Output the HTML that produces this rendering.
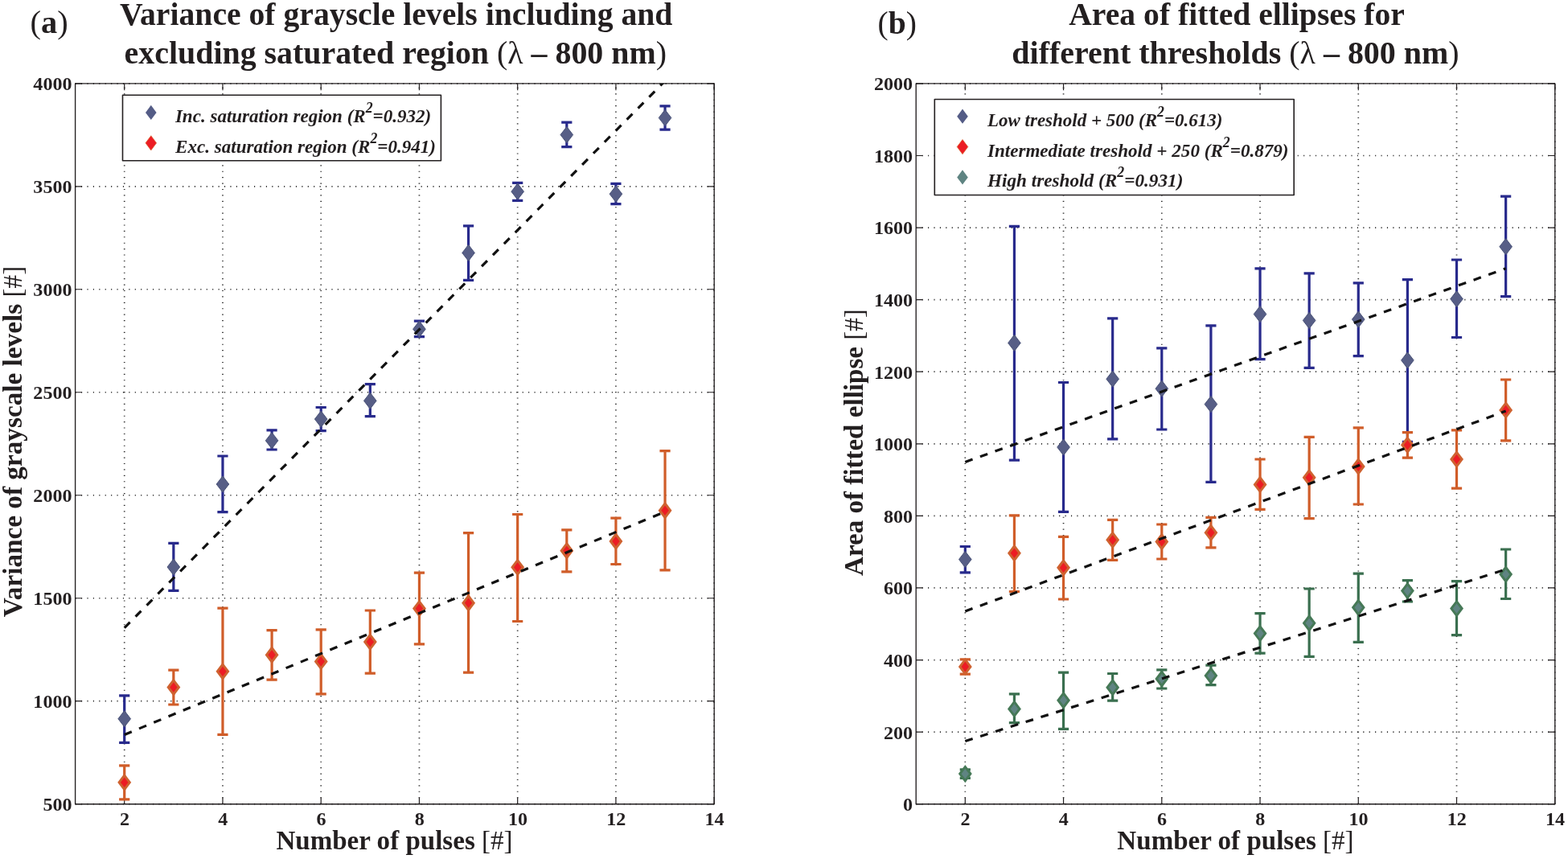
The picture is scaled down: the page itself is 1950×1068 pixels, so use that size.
<!DOCTYPE html>
<html><head><meta charset="utf-8"><title>Figure</title>
<style>
html,body{margin:0;padding:0;background:#fff;}
body{width:1950px;height:1068px;overflow:hidden;}
svg{display:block;}
text{font-family:"Liberation Serif", "Times New Roman", serif;fill:#231F20;}
.tk text{font-weight:bold;}
.tt{font-weight:bold;}
.lg{font-weight:bold;font-style:italic;}
</style></head>
<body>
<svg width="1950" height="1068" viewBox="0 0 1950 1068">
<rect width="1950" height="1068" fill="#fff"/>
<defs><clipPath id="cl"><rect x="93.6" y="103.8" width="794.6" height="895.9"/></clipPath><clipPath id="cr"><rect x="1139.2" y="103.9" width="794.6" height="895.8"/></clipPath></defs>
<path d="M154.72 999.7V103.8M276.96 999.7V103.8M399.2 999.7V103.8M521.44 999.7V103.8M643.68 999.7V103.8M765.92 999.7V103.8M888.16 999.7V103.8M93.6 999.7H888.2M93.6 871.71H888.2M93.6 743.73H888.2M93.6 615.74H888.2M93.6 487.76H888.2M93.6 359.77H888.2M93.6 231.79H888.2M93.6 103.8H888.2" stroke="#2a2a2a" stroke-width="1.7" stroke-dasharray="1.15 6.264" fill="none"/>
<path d="M154.72 999.7V991.3M154.72 103.8V112.2M276.96 999.7V991.3M276.96 103.8V112.2M399.2 999.7V991.3M399.2 103.8V112.2M521.44 999.7V991.3M521.44 103.8V112.2M643.68 999.7V991.3M643.68 103.8V112.2M765.92 999.7V991.3M765.92 103.8V112.2M888.16 999.7V991.3M888.16 103.8V112.2M93.6 999.7H102M888.2 999.7H879.8M93.6 871.71H102M888.2 871.71H879.8M93.6 743.73H102M888.2 743.73H879.8M93.6 615.74H102M888.2 615.74H879.8M93.6 487.76H102M888.2 487.76H879.8M93.6 359.77H102M888.2 359.77H879.8M93.6 231.79H102M888.2 231.79H879.8M93.6 103.8H102M888.2 103.8H879.8" stroke="#231F20" stroke-width="1.2" fill="none"/>
<rect x="93.6" y="103.8" width="794.6" height="895.9" fill="none" stroke="#231F20" stroke-width="1.35" stroke-linejoin="round"/>
<path d="M1200.32 999.7V103.9M1322.56 999.7V103.9M1444.8 999.7V103.9M1567.04 999.7V103.9M1689.28 999.7V103.9M1811.52 999.7V103.9M1933.76 999.7V103.9M1139.2 999.7H1933.8M1139.2 910.12H1933.8M1139.2 820.54H1933.8M1139.2 730.96H1933.8M1139.2 641.38H1933.8M1139.2 551.8H1933.8M1139.2 462.22H1933.8M1139.2 372.64H1933.8M1139.2 283.06H1933.8M1139.2 193.48H1933.8M1139.2 103.9H1933.8" stroke="#2a2a2a" stroke-width="1.7" stroke-dasharray="1.15 6.264" fill="none"/>
<path d="M1200.32 999.7V991.3M1200.32 103.9V112.3M1322.56 999.7V991.3M1322.56 103.9V112.3M1444.8 999.7V991.3M1444.8 103.9V112.3M1567.04 999.7V991.3M1567.04 103.9V112.3M1689.28 999.7V991.3M1689.28 103.9V112.3M1811.52 999.7V991.3M1811.52 103.9V112.3M1933.76 999.7V991.3M1933.76 103.9V112.3M1139.2 999.7H1147.6M1933.8 999.7H1925.4M1139.2 910.12H1147.6M1933.8 910.12H1925.4M1139.2 820.54H1147.6M1933.8 820.54H1925.4M1139.2 730.96H1147.6M1933.8 730.96H1925.4M1139.2 641.38H1147.6M1933.8 641.38H1925.4M1139.2 551.8H1147.6M1933.8 551.8H1925.4M1139.2 462.22H1147.6M1933.8 462.22H1925.4M1139.2 372.64H1147.6M1933.8 372.64H1925.4M1139.2 283.06H1147.6M1933.8 283.06H1925.4M1139.2 193.48H1147.6M1933.8 193.48H1925.4M1139.2 103.9H1147.6M1933.8 103.9H1925.4" stroke="#231F20" stroke-width="1.2" fill="none"/>
<rect x="1139.2" y="103.9" width="794.6" height="895.8" fill="none" stroke="#231F20" stroke-width="1.35" stroke-linejoin="round"/>
<path d="M154.72 864.8V923.3M148.12 864.8H161.32M148.12 923.3H161.32M215.84 675.3V734.3M209.24 675.3H222.44M209.24 734.3H222.44M276.96 567V636.6M270.36 567H283.56M270.36 636.6H283.56M338.08 534.9V559M331.48 534.9H344.68M331.48 559H344.68M399.2 506.5V535.7M392.6 506.5H405.8M392.6 535.7H405.8M460.32 477.6V517.6M453.72 477.6H466.92M453.72 517.6H466.92M521.44 399.2V418.6M514.84 399.2H528.04M514.84 418.6H528.04M582.56 280.8V348.4M575.96 280.8H589.16M575.96 348.4H589.16M643.68 227.4V249.4M637.08 227.4H650.28M637.08 249.4H650.28M704.8 152.1V182.7M698.2 152.1H711.4M698.2 182.7H711.4M765.92 228.3V253.7M759.32 228.3H772.52M759.32 253.7H772.52M827.04 131.9V161.1M820.44 131.9H833.64M820.44 161.1H833.64" stroke="#282A8C" stroke-width="3.2" fill="none"/>
<path d="M154.72 883.6L162.52 893.7L154.72 903.8L146.92 893.7Z" fill="#575E86" stroke="#4A5378" stroke-width="1.0"/>
<path d="M215.84 694.9L223.64 705L215.84 715.1L208.04 705Z" fill="#575E86" stroke="#4A5378" stroke-width="1.0"/>
<path d="M276.96 591.9L284.76 602L276.96 612.1L269.16 602Z" fill="#575E86" stroke="#4A5378" stroke-width="1.0"/>
<path d="M338.08 537.7L345.88 547.8L338.08 557.9L330.28 547.8Z" fill="#575E86" stroke="#4A5378" stroke-width="1.0"/>
<path d="M399.2 511L407 521.1L399.2 531.2L391.4 521.1Z" fill="#575E86" stroke="#4A5378" stroke-width="1.0"/>
<path d="M460.32 488.2L468.12 498.3L460.32 508.4L452.52 498.3Z" fill="#575E86" stroke="#4A5378" stroke-width="1.0"/>
<path d="M521.44 399.1L529.24 409.2L521.44 419.3L513.64 409.2Z" fill="#575E86" stroke="#4A5378" stroke-width="1.0"/>
<path d="M582.56 304.3L590.36 314.4L582.56 324.5L574.76 314.4Z" fill="#575E86" stroke="#4A5378" stroke-width="1.0"/>
<path d="M643.68 228.1L651.48 238.2L643.68 248.3L635.88 238.2Z" fill="#575E86" stroke="#4A5378" stroke-width="1.0"/>
<path d="M704.8 157.5L712.6 167.6L704.8 177.7L697 167.6Z" fill="#575E86" stroke="#4A5378" stroke-width="1.0"/>
<path d="M765.92 231.1L773.72 241.2L765.92 251.3L758.12 241.2Z" fill="#575E86" stroke="#4A5378" stroke-width="1.0"/>
<path d="M827.04 136.4L834.84 146.5L827.04 156.6L819.24 146.5Z" fill="#575E86" stroke="#4A5378" stroke-width="1.0"/>
<path d="M154.72 951.8V993.8M148.12 951.8H161.32M148.12 993.8H161.32M215.84 833.1V876M209.24 833.1H222.44M209.24 876H222.44M276.96 756.1V913.4M270.36 756.1H283.56M270.36 913.4H283.56M338.08 783.7V845.1M331.48 783.7H344.68M331.48 845.1H344.68M399.2 782.9V862.8M392.6 782.9H405.8M392.6 862.8H405.8M460.32 759V837.2M453.72 759H466.92M453.72 837.2H466.92M521.44 712.2V800.9M514.84 712.2H528.04M514.84 800.9H528.04M582.56 662.7V836.2M575.96 662.7H589.16M575.96 836.2H589.16M643.68 639.5V772.5M637.08 639.5H650.28M637.08 772.5H650.28M704.8 658.8V710.9M698.2 658.8H711.4M698.2 710.9H711.4M765.92 644.2V701.5M759.32 644.2H772.52M759.32 701.5H772.52M827.04 560.7V708.8M820.44 560.7H833.64M820.44 708.8H833.64" stroke="#D05D29" stroke-width="3.2" fill="none"/>
<path d="M154.72 964.1L161.32 972.8L154.72 981.5L148.12 972.8Z" fill="#EC1C24" stroke="#CF6230" stroke-width="3.0"/>
<path d="M215.84 845.8L222.44 854.5L215.84 863.2L209.24 854.5Z" fill="#EC1C24" stroke="#CF6230" stroke-width="3.0"/>
<path d="M276.96 826.1L283.56 834.8L276.96 843.5L270.36 834.8Z" fill="#EC1C24" stroke="#CF6230" stroke-width="3.0"/>
<path d="M338.08 805.5L344.68 814.2L338.08 822.9L331.48 814.2Z" fill="#EC1C24" stroke="#CF6230" stroke-width="3.0"/>
<path d="M399.2 813.7L405.8 822.4L399.2 831.1L392.6 822.4Z" fill="#EC1C24" stroke="#CF6230" stroke-width="3.0"/>
<path d="M460.32 789.4L466.92 798.1L460.32 806.8L453.72 798.1Z" fill="#EC1C24" stroke="#CF6230" stroke-width="3.0"/>
<path d="M521.44 747.9L528.04 756.6L521.44 765.3L514.84 756.6Z" fill="#EC1C24" stroke="#CF6230" stroke-width="3.0"/>
<path d="M582.56 741L589.16 749.7L582.56 758.4L575.96 749.7Z" fill="#EC1C24" stroke="#CF6230" stroke-width="3.0"/>
<path d="M643.68 696.6L650.28 705.3L643.68 714L637.08 705.3Z" fill="#EC1C24" stroke="#CF6230" stroke-width="3.0"/>
<path d="M704.8 676L711.4 684.7L704.8 693.4L698.2 684.7Z" fill="#EC1C24" stroke="#CF6230" stroke-width="3.0"/>
<path d="M765.92 664.3L772.52 673L765.92 681.7L759.32 673Z" fill="#EC1C24" stroke="#CF6230" stroke-width="3.0"/>
<path d="M827.04 626L833.64 634.7L827.04 643.4L820.44 634.7Z" fill="#EC1C24" stroke="#CF6230" stroke-width="3.0"/>
<path d="M1200.32 679.5V711.8M1193.72 679.5H1206.92M1193.72 711.8H1206.92M1261.44 281.3V572.2M1254.84 281.3H1268.04M1254.84 572.2H1268.04M1322.56 475.5V636.4M1315.96 475.5H1329.16M1315.96 636.4H1329.16M1383.68 395.8V545.8M1377.08 395.8H1390.28M1377.08 545.8H1390.28M1444.8 432.8V534M1438.2 432.8H1451.4M1438.2 534H1451.4M1505.92 404.8V599.4M1499.32 404.8H1512.52M1499.32 599.4H1512.52M1567.04 333.8V446.6M1560.44 333.8H1573.64M1560.44 446.6H1573.64M1628.16 339.8V457.4M1621.56 339.8H1634.76M1621.56 457.4H1634.76M1689.28 351.9V442.7M1682.68 351.9H1695.88M1682.68 442.7H1695.88M1750.4 347.6V549.3M1743.8 347.6H1757M1743.8 549.3H1757M1811.52 323V419.5M1804.92 323H1818.12M1804.92 419.5H1818.12M1872.64 244.2V368.7M1866.04 244.2H1879.24M1866.04 368.7H1879.24" stroke="#282A8C" stroke-width="3.2" fill="none"/>
<path d="M1200.32 685.4L1208.12 695.5L1200.32 705.6L1192.52 695.5Z" fill="#575E86" stroke="#4A5378" stroke-width="1.0"/>
<path d="M1261.44 416.3L1269.24 426.4L1261.44 436.5L1253.64 426.4Z" fill="#575E86" stroke="#4A5378" stroke-width="1.0"/>
<path d="M1322.56 545.9L1330.36 556L1322.56 566.1L1314.76 556Z" fill="#575E86" stroke="#4A5378" stroke-width="1.0"/>
<path d="M1383.68 461.1L1391.48 471.2L1383.68 481.3L1375.88 471.2Z" fill="#575E86" stroke="#4A5378" stroke-width="1.0"/>
<path d="M1444.8 473.1L1452.6 483.2L1444.8 493.3L1437 483.2Z" fill="#575E86" stroke="#4A5378" stroke-width="1.0"/>
<path d="M1505.92 492.5L1513.72 502.6L1505.92 512.7L1498.12 502.6Z" fill="#575E86" stroke="#4A5378" stroke-width="1.0"/>
<path d="M1567.04 380.5L1574.84 390.6L1567.04 400.7L1559.24 390.6Z" fill="#575E86" stroke="#4A5378" stroke-width="1.0"/>
<path d="M1628.16 388.3L1635.96 398.4L1628.16 408.5L1620.36 398.4Z" fill="#575E86" stroke="#4A5378" stroke-width="1.0"/>
<path d="M1689.28 387L1697.08 397.1L1689.28 407.2L1681.48 397.1Z" fill="#575E86" stroke="#4A5378" stroke-width="1.0"/>
<path d="M1750.4 437.8L1758.2 447.9L1750.4 458L1742.6 447.9Z" fill="#575E86" stroke="#4A5378" stroke-width="1.0"/>
<path d="M1811.52 361.6L1819.32 371.7L1811.52 381.8L1803.72 371.7Z" fill="#575E86" stroke="#4A5378" stroke-width="1.0"/>
<path d="M1872.64 296.6L1880.44 306.7L1872.64 316.8L1864.84 306.7Z" fill="#575E86" stroke="#4A5378" stroke-width="1.0"/>
<path d="M1200.32 819.8V838.2M1193.72 819.8H1206.92M1193.72 838.2H1206.92M1261.44 640.8V735.5M1254.84 640.8H1268.04M1254.84 735.5H1268.04M1322.56 667.4V745M1315.96 667.4H1329.16M1315.96 745H1329.16M1383.68 646.3V696.3M1377.08 646.3H1390.28M1377.08 696.3H1390.28M1444.8 652V695M1438.2 652H1451.4M1438.2 695H1451.4M1505.92 643.3V680.8M1499.32 643.3H1512.52M1499.32 680.8H1512.52M1567.04 571V633.4M1560.44 571H1573.64M1560.44 633.4H1573.64M1628.16 543.4V644.6M1621.56 543.4H1634.76M1621.56 644.6H1634.76M1689.28 531.9V627M1682.68 531.9H1695.88M1682.68 627H1695.88M1750.4 537.6V569.2M1743.8 537.6H1757M1743.8 569.2H1757M1811.52 534.9V607.2M1804.92 534.9H1818.12M1804.92 607.2H1818.12M1872.64 472V547.8M1866.04 472H1879.24M1866.04 547.8H1879.24" stroke="#D05D29" stroke-width="3.2" fill="none"/>
<path d="M1200.32 820.2L1206.92 828.9L1200.32 837.6L1193.72 828.9Z" fill="#EC1C24" stroke="#CF6230" stroke-width="3.0"/>
<path d="M1261.44 679L1268.04 687.7L1261.44 696.4L1254.84 687.7Z" fill="#EC1C24" stroke="#CF6230" stroke-width="3.0"/>
<path d="M1322.56 697.1L1329.16 705.8L1322.56 714.5L1315.96 705.8Z" fill="#EC1C24" stroke="#CF6230" stroke-width="3.0"/>
<path d="M1383.68 662.6L1390.28 671.3L1383.68 680L1377.08 671.3Z" fill="#EC1C24" stroke="#CF6230" stroke-width="3.0"/>
<path d="M1444.8 664.8L1451.4 673.5L1444.8 682.2L1438.2 673.5Z" fill="#EC1C24" stroke="#CF6230" stroke-width="3.0"/>
<path d="M1505.92 653.6L1512.52 662.3L1505.92 671L1499.32 662.3Z" fill="#EC1C24" stroke="#CF6230" stroke-width="3.0"/>
<path d="M1567.04 593.7L1573.64 602.4L1567.04 611.1L1560.44 602.4Z" fill="#EC1C24" stroke="#CF6230" stroke-width="3.0"/>
<path d="M1628.16 585.1L1634.76 593.8L1628.16 602.5L1621.56 593.8Z" fill="#EC1C24" stroke="#CF6230" stroke-width="3.0"/>
<path d="M1689.28 571.3L1695.88 580L1689.28 588.7L1682.68 580Z" fill="#EC1C24" stroke="#CF6230" stroke-width="3.0"/>
<path d="M1750.4 544.6L1757 553.3L1750.4 562L1743.8 553.3Z" fill="#EC1C24" stroke="#CF6230" stroke-width="3.0"/>
<path d="M1811.52 562.3L1818.12 571L1811.52 579.7L1804.92 571Z" fill="#EC1C24" stroke="#CF6230" stroke-width="3.0"/>
<path d="M1872.64 501.2L1879.24 509.9L1872.64 518.6L1866.04 509.9Z" fill="#EC1C24" stroke="#CF6230" stroke-width="3.0"/>
<path d="M1200.32 956.9V967.4M1193.72 956.9H1206.92M1193.72 967.4H1206.92M1261.44 862.9V898.7M1254.84 862.9H1268.04M1254.84 898.7H1268.04M1322.56 836.2V906.4M1315.96 836.2H1329.16M1315.96 906.4H1329.16M1383.68 837.5V871.1M1377.08 837.5H1390.28M1377.08 871.1H1390.28M1444.8 832.8V856M1438.2 832.8H1451.4M1438.2 856H1451.4M1505.92 827.2V851.7M1499.32 827.2H1512.52M1499.32 851.7H1512.52M1567.04 762.6V812.1M1560.44 762.6H1573.64M1560.44 812.1H1573.64M1628.16 732V816.4M1621.56 732H1634.76M1621.56 816.4H1634.76M1689.28 713.1V798.3M1682.68 713.1H1695.88M1682.68 798.3H1695.88M1750.4 721.7V748M1743.8 721.7H1757M1743.8 748H1757M1811.52 722.6V789.7M1804.92 722.6H1818.12M1804.92 789.7H1818.12M1872.64 683V744.5M1866.04 683H1879.24M1866.04 744.5H1879.24" stroke="#3A6F4F" stroke-width="3.2" fill="none"/>
<path d="M1200.32 953.4L1206.92 962.1L1200.32 970.8L1193.72 962.1Z" fill="#5F8482" stroke="#467957" stroke-width="3.0"/>
<path d="M1261.44 872.7L1268.04 881.4L1261.44 890.1L1254.84 881.4Z" fill="#5F8482" stroke="#467957" stroke-width="3.0"/>
<path d="M1322.56 862L1329.16 870.7L1322.56 879.4L1315.96 870.7Z" fill="#5F8482" stroke="#467957" stroke-width="3.0"/>
<path d="M1383.68 846L1390.28 854.7L1383.68 863.4L1377.08 854.7Z" fill="#5F8482" stroke="#467957" stroke-width="3.0"/>
<path d="M1444.8 835.3L1451.4 844L1444.8 852.7L1438.2 844Z" fill="#5F8482" stroke="#467957" stroke-width="3.0"/>
<path d="M1505.92 831.4L1512.52 840.1L1505.92 848.8L1499.32 840.1Z" fill="#5F8482" stroke="#467957" stroke-width="3.0"/>
<path d="M1567.04 778.9L1573.64 787.6L1567.04 796.3L1560.44 787.6Z" fill="#5F8482" stroke="#467957" stroke-width="3.0"/>
<path d="M1628.16 766L1634.76 774.7L1628.16 783.4L1621.56 774.7Z" fill="#5F8482" stroke="#467957" stroke-width="3.0"/>
<path d="M1689.28 746.6L1695.88 755.3L1689.28 764L1682.68 755.3Z" fill="#5F8482" stroke="#467957" stroke-width="3.0"/>
<path d="M1750.4 725.9L1757 734.6L1750.4 743.3L1743.8 734.6Z" fill="#5F8482" stroke="#467957" stroke-width="3.0"/>
<path d="M1811.52 747.9L1818.12 756.6L1811.52 765.3L1804.92 756.6Z" fill="#5F8482" stroke="#467957" stroke-width="3.0"/>
<path d="M1872.64 705.3L1879.24 714L1872.64 722.7L1866.04 714Z" fill="#5F8482" stroke="#467957" stroke-width="3.0"/>
<line x1="154.72" y1="780.6" x2="827.04" y2="100.62" stroke="#111" stroke-width="3.2" stroke-dasharray="9.8 9.95" clip-path="url(#cl)"/>
<line x1="154.72" y1="913.4" x2="827.04" y2="636.4" stroke="#111" stroke-width="3.2" stroke-dasharray="9.8 9.95" clip-path="url(#cl)"/>
<line x1="1200.32" y1="574.4" x2="1872.64" y2="333.8" stroke="#111" stroke-width="3.2" stroke-dasharray="9.8 9.95" clip-path="url(#cr)"/>
<line x1="1200.32" y1="760" x2="1872.64" y2="511" stroke="#111" stroke-width="3.2" stroke-dasharray="9.8 9.95" clip-path="url(#cr)"/>
<line x1="1200.32" y1="921.5" x2="1872.64" y2="707.9" stroke="#111" stroke-width="3.2" stroke-dasharray="9.8 9.95" clip-path="url(#cr)"/>
<rect x="152.5" y="118.2" width="395.9" height="81.5" fill="#fff" stroke="#231F20" stroke-width="1.6" stroke-linejoin="round"/>
<path d="M187.8 130.8L194.6 139.9L187.8 149L181 139.9Z" fill="#545C86"/>
<path d="M187.8 168.7L194.6 177.8L187.8 186.9L181 177.8Z" fill="#EC1C24" stroke="#D8652E" stroke-width="0.7"/>
<rect x="1162.3" y="123.5" width="446.9" height="119" fill="#fff" stroke="#231F20" stroke-width="1.6" stroke-linejoin="round"/>
<path d="M1197 135.6L1203.8 144.7L1197 153.8L1190.2 144.7Z" fill="#545C86"/>
<path d="M1197 173.5L1203.8 182.6L1197 191.7L1190.2 182.6Z" fill="#EC1C24" stroke="#D8652E" stroke-width="0.7"/>
<path d="M1197 211.3L1203.8 220.4L1197 229.5L1190.2 220.4Z" fill="#5F8482"/>
<g class="tk" style="font-size:24.1px"><text transform="translate(155.02 1026.2) scale(1.0 1)" text-anchor="middle">2</text>
<text transform="translate(277.26 1026.2) scale(1.0 1)" text-anchor="middle">4</text>
<text transform="translate(399.5 1026.2) scale(1.0 1)" text-anchor="middle">6</text>
<text transform="translate(521.74 1026.2) scale(1.0 1)" text-anchor="middle">8</text>
<text transform="translate(643.98 1026.2) scale(1.0 1)" text-anchor="middle">10</text>
<text transform="translate(766.22 1026.2) scale(1.0 1)" text-anchor="middle">12</text>
<text transform="translate(888.46 1026.2) scale(1.0 1)" text-anchor="middle">14</text>
<text transform="translate(89.55 1008.1) scale(1.0 1)" text-anchor="end">500</text>
<text transform="translate(89.55 880.11) scale(1.0 1)" text-anchor="end">1000</text>
<text transform="translate(89.55 752.13) scale(1.0 1)" text-anchor="end">1500</text>
<text transform="translate(89.55 624.14) scale(1.0 1)" text-anchor="end">2000</text>
<text transform="translate(89.55 496.16) scale(1.0 1)" text-anchor="end">2500</text>
<text transform="translate(89.55 368.17) scale(1.0 1)" text-anchor="end">3000</text>
<text transform="translate(89.55 240.19) scale(1.0 1)" text-anchor="end">3500</text>
<text transform="translate(89.55 112.2) scale(1.0 1)" text-anchor="end">4000</text>
<text transform="translate(1200.62 1026.2) scale(1.0 1)" text-anchor="middle">2</text>
<text transform="translate(1322.86 1026.2) scale(1.0 1)" text-anchor="middle">4</text>
<text transform="translate(1445.1 1026.2) scale(1.0 1)" text-anchor="middle">6</text>
<text transform="translate(1567.34 1026.2) scale(1.0 1)" text-anchor="middle">8</text>
<text transform="translate(1689.58 1026.2) scale(1.0 1)" text-anchor="middle">10</text>
<text transform="translate(1811.82 1026.2) scale(1.0 1)" text-anchor="middle">12</text>
<text transform="translate(1934.06 1026.2) scale(1.0 1)" text-anchor="middle">14</text>
<text transform="translate(1135.15 1008.1) scale(1.0 1)" text-anchor="end">0</text>
<text transform="translate(1135.15 918.52) scale(1.0 1)" text-anchor="end">200</text>
<text transform="translate(1135.15 828.94) scale(1.0 1)" text-anchor="end">400</text>
<text transform="translate(1135.15 739.36) scale(1.0 1)" text-anchor="end">600</text>
<text transform="translate(1135.15 649.78) scale(1.0 1)" text-anchor="end">800</text>
<text transform="translate(1135.15 560.2) scale(1.0 1)" text-anchor="end">1000</text>
<text transform="translate(1135.15 470.62) scale(1.0 1)" text-anchor="end">1200</text>
<text transform="translate(1135.15 381.04) scale(1.0 1)" text-anchor="end">1400</text>
<text transform="translate(1135.15 291.46) scale(1.0 1)" text-anchor="end">1600</text>
<text transform="translate(1135.15 201.88) scale(1.0 1)" text-anchor="end">1800</text>
<text transform="translate(1135.15 112.3) scale(1.0 1)" text-anchor="end">2000</text></g>
<text class="tt" style="font-size:40.3px" transform="translate(149 30.75) scale(0.9848 1)">Variance of grayscle levels including and</text>
<text class="tt" style="font-size:40.3px" transform="translate(154.61 78.6) scale(0.9900 1)">excluding saturated region <tspan font-weight="normal">(λ</tspan> – 800 nm<tspan font-weight="normal">)</tspan></text>
<text class="tt" style="font-size:40.3px" transform="translate(1329.2 30.75) scale(0.9844 1)">Area of fitted ellipses for</text>
<text class="tt" style="font-size:40.3px" transform="translate(1258.32 78.5) scale(0.9921 1)">different thresholds <tspan font-weight="normal">(λ</tspan> – 800 nm<tspan font-weight="normal">)</tspan></text>
<text class="tt" style="font-size:40.3px" transform="translate(37.58 40.8) scale(1.0056 1)"><tspan font-weight="normal">(</tspan>a<tspan font-weight="normal">)</tspan></text>
<text class="tt" style="font-size:40.3px" transform="translate(1091.43 41.8) scale(0.9830 1)"><tspan font-weight="normal">(</tspan>b<tspan font-weight="normal">)</tspan></text>
<text class="tt" style="font-size:33.3px" transform="translate(343.4 1056.2) scale(0.9932 1)">Number of pulses <tspan font-weight="normal">[#]</tspan></text>
<text class="tt" style="font-size:33.3px" transform="translate(1389.36 1056.2) scale(0.9935 1)">Number of pulses <tspan font-weight="normal">[#]</tspan></text>
<text class="tt" style="font-size:33.3px" transform="translate(27 767.2) rotate(-90) scale(0.9991 1)">Variance of grayscale levels <tspan font-weight="normal">[#]</tspan></text>
<text class="tt" style="font-size:33.3px" transform="translate(1072.6 716) rotate(-90) scale(0.9934 1)">Area of fitted ellipse <tspan font-weight="normal">[#]</tspan></text>
<text class="lg" style="font-size:24px" transform="translate(217.9 151.8) scale(0.9604 1)">Inc. saturation region (R<tspan dy="-11.8" font-size="18.5">2</tspan><tspan dy="11.8">=0.932)</tspan></text>
<text class="lg" style="font-size:24px" transform="translate(218.1 189.6) scale(0.9619 1)">Exc. saturation region (R<tspan dy="-11.8" font-size="18.5">2</tspan><tspan dy="11.8">=0.941)</tspan></text>
<text class="lg" style="font-size:24px" transform="translate(1227.9 156.6) scale(0.9589 1)">Low treshold + 500 (R<tspan dy="-11.8" font-size="18.5">2</tspan><tspan dy="11.8">=0.613)</tspan></text>
<text class="lg" style="font-size:24px" transform="translate(1227.9 194.7) scale(0.9629 1)">Intermediate treshold + 250 (R<tspan dy="-11.8" font-size="18.5">2</tspan><tspan dy="11.8">=0.879)</tspan></text>
<text class="lg" style="font-size:24px" transform="translate(1227.89 231.5) scale(0.9680 1)">High treshold (R<tspan dy="-11.8" font-size="18.5">2</tspan><tspan dy="11.8">=0.931)</tspan></text>
</svg>
</body></html>
